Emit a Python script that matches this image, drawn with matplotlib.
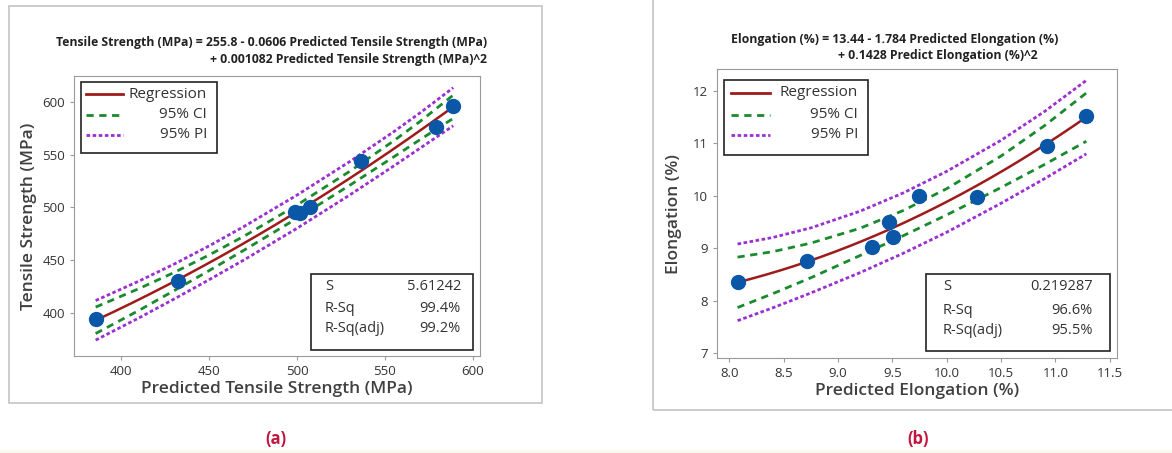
import numpy as np
import matplotlib
matplotlib.use('Agg')
import matplotlib.pyplot as plt
from matplotlib.patches import Rectangle
from matplotlib.lines import Line2D

plt.rcParams['font.family'] = ['Open Sans', 'DejaVu Sans']

W, H = 1172, 453

# ---- panel (a) data: tensile strength ----
ts_pred = [385.6, 432.6, 498.9, 501.7, 507.4, 536.4, 578.8, 588.8]
ts_meas = [394.6, 430.5, 496.0, 494.5, 500.2, 544.0, 576.4, 596.2]
ts_coef = [0.001082, -0.0606, 255.8]          # y = c0*x^2 + c1*x + c2
ts_band_x = [385.6, 410, 430, 450, 470, 500, 530, 555, 570, 588.8]
ts_ci_half = [12.5, 10.3, 8.6, 7.4, 6.6, 6.3, 6.6, 7.6, 8.6, 11.0]
ts_pi_half = [18.7, 17.4, 16.5, 16.0, 15.8, 15.7, 15.8, 16.2, 16.7, 18.0]
ts_stats = [('S', '5.61242'), ('R-Sq', '99.4%'), ('R-Sq(adj)', '99.2%')]

# ---- panel (b) data: elongation ----
el_pred = [8.076, 8.719, 9.310, 9.472, 9.509, 9.742, 10.28, 10.927, 11.285]
el_meas = [8.352, 8.745, 9.025, 9.487, 9.209, 9.990, 9.963, 10.934, 11.524]
el_coef = [0.1428, -1.784, 13.44]
el_band_x = [8.076, 8.4, 8.75, 9.2, 9.6, 10.0, 10.5, 10.9, 11.285]
el_ci_half = [0.48, 0.40, 0.33, 0.26, 0.24, 0.25, 0.30, 0.37, 0.46]
el_pi_half = [0.73, 0.67, 0.62, 0.585, 0.575, 0.58, 0.60, 0.64, 0.70]
el_stats = [('S', '0.219287'), ('R-Sq', '96.6%'), ('R-Sq(adj)', '95.5%')]

RED = '#9e1b1b'
GREEN = '#1a8a2e'
PURPLE = '#9b30d0'
BLUE = '#0a57a8'
TXT = '#333333'
CI_LS = (0, (2.6, 2.0))
PI_LS = (0, (1.3, 0.9))


def fx(x):
    return x / W


def fy(y):
    return 1 - y / H


def axes_px(fig, l, t, r, b):
    return fig.add_axes([l / W, 1 - b / H, (r - l) / W, (b - t) / H])


def fit_panel(ax, xp, yp, coef, bx, ci, pi, xlim, ylim, xticks, yticks):
    bx = np.array(bx)
    fitb = np.polyval(coef, bx)
    xs = np.linspace(min(xp), max(xp), 200)
    ax.plot(bx, fitb + np.array(pi), color=PURPLE, lw=2, ls=PI_LS)
    ax.plot(bx, fitb - np.array(pi), color=PURPLE, lw=2, ls=PI_LS)
    ax.plot(bx, fitb + np.array(ci), color=GREEN, lw=2, ls=CI_LS)
    ax.plot(bx, fitb - np.array(ci), color=GREEN, lw=2, ls=CI_LS)
    ax.plot(xs, np.polyval(coef, xs), color=RED, lw=1.8)
    ax.plot(xp, yp, 'o', color=BLUE, ms=10, mec=BLUE, zorder=5)
    ax.set_xlim(*xlim)
    ax.set_ylim(*ylim)
    ax.set_xticks(xticks)
    ax.set_yticks(yticks)
    for s in ax.spines.values():
        s.set_color('#9a9a9a')
    ax.tick_params(colors='#9a9a9a', labelcolor=TXT, labelsize=9.5, length=3, width=0.8)


def legend_box(fig, l, t, r, b, rows_y, line_x0, line_x1, text_r):
    fig.add_artist(Rectangle((fx(l), fy(b)), fx(r - l), (b - t) / H,
                             transform=fig.transFigure, fill=False, ec='#222222', lw=1.2))
    items = [('Regression', RED, '-'), ('95% CI', GREEN, CI_LS), ('95% PI', PURPLE, PI_LS)]
    for (lab, c, ls), y in zip(items, rows_y):
        fig.add_artist(Line2D([fx(line_x0), fx(line_x1)], [fy(y), fy(y)],
                              transform=fig.transFigure, color=c, lw=2, ls=ls))
        fig.text(fx(text_r), fy(y), lab, ha='right', va='center', fontsize=11, color=TXT)


def stats_box(fig, l, t, r, b, rows_y, tx_l, tx_r, stats):
    fig.add_artist(Rectangle((fx(l), fy(b)), fx(r - l), (b - t) / H,
                             transform=fig.transFigure, fill=False, ec='#222222', lw=1.2))
    for (k, v), y in zip(stats, rows_y):
        fig.text(fx(tx_l), fy(y), k, ha='left', va='center', fontsize=10.5, color=TXT)
        fig.text(fx(tx_r), fy(y), v, ha='right', va='center', fontsize=10.5, color=TXT)


fig = plt.figure(figsize=(W / 100, H / 100), dpi=100)

# panel frames and pale strip at the bottom
fig.add_artist(Rectangle((fx(9), fy(403)), fx(533), 397 / H, transform=fig.transFigure,
                         fill=False, ec='#c4c4c4', lw=1.2))
fig.add_artist(Rectangle((fx(653), fy(410)), fx(530), 420 / H, transform=fig.transFigure,
                         fill=False, ec='#c4c4c4', lw=1.2))
fig.add_artist(Rectangle((0, 0), 1, 3 / H, transform=fig.transFigure,
                         fc='#fafaea', ec='none'))

# ---- panel (a) ----
axa = axes_px(fig, 74, 76, 480, 356)
fit_panel(axa, ts_pred, ts_meas, ts_coef, ts_band_x, ts_ci_half, ts_pi_half,
          (373.3, 604), (359.6, 624.3), [400, 450, 500, 550, 600], [400, 450, 500, 550, 600])
axa.set_xlabel('Predicted Tensile Strength (MPa)', fontsize=12.5, fontweight='semibold',
               color='#404040', labelpad=2)
axa.set_ylabel('Tensile Strength (MPa)', fontsize=12.5, fontweight='semibold',
               color='#404040', labelpad=4)
fig.text(fx(487), fy(51), 'Tensile Strength (MPa) = 255.8 - 0.0606 Predicted Tensile Strength (MPa)\n'
         '+ 0.001082 Predicted Tensile Strength (MPa)^2', ha='right', va='center',
         multialignment='right', fontsize=8.8, fontweight='bold', color='#222222',
         linespacing=1.35)
legend_box(fig, 81, 82, 217, 153, [94, 115, 135], 86, 123, 207)
stats_box(fig, 311, 274, 473, 350, [287, 309, 329], 325, 461, ts_stats)
fig.text(fx(276), fy(439), '(a)', ha='center', va='center', fontsize=12,
         fontweight='bold', color='#c0173f')

# ---- panel (b) ----
axb = axes_px(fig, 717, 69, 1117, 358)
fit_panel(axb, el_pred, el_meas, el_coef, el_band_x, el_ci_half, el_pi_half,
          (7.887, 11.567), (6.905, 12.41), [8.0, 8.5, 9.0, 9.5, 10.0, 10.5, 11.0, 11.5],
          [7, 8, 9, 10, 11, 12])
axb.set_xticklabels(['8.0', '8.5', '9.0', '9.5', '10.0', '10.5', '11.0', '11.5'])
axb.set_xlabel('Predicted Elongation (%)', fontsize=12.5, fontweight='semibold',
               color='#404040', labelpad=2)
axb.set_ylabel('Elongation (%)', fontsize=12.5, fontweight='semibold',
               color='#404040', labelpad=8)
fig.text(fx(731), fy(39), 'Elongation (%) = 13.44 - 1.784 Predicted Elongation (%)',
         ha='left', va='center', fontsize=8.8, fontweight='bold', color='#222222')
fig.text(fx(838), fy(55), '+ 0.1428 Predict Elongation (%)^2',
         ha='left', va='center', fontsize=8.8, fontweight='bold', color='#222222')
legend_box(fig, 724, 80, 868, 155, [93, 115, 135], 731, 770, 858)
stats_box(fig, 926, 274, 1110, 351, [287, 310, 330], 943, 1093, el_stats)
fig.text(fx(918), fy(439), '(b)', ha='center', va='center', fontsize=12,
         fontweight='bold', color='#c0173f')

fig.savefig('out.png', dpi=100)
